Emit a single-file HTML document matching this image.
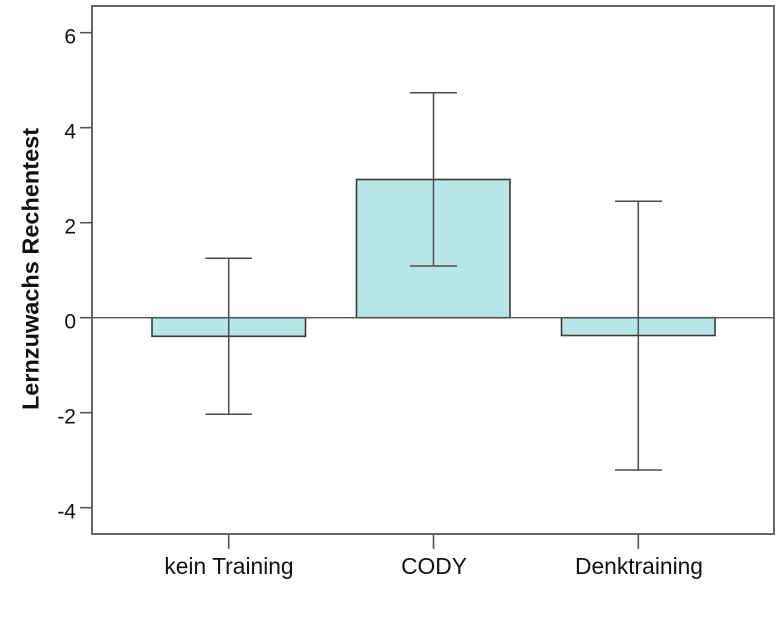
<!DOCTYPE html>
<html>
<head>
<meta charset="utf-8">
<style>
html,body{margin:0;padding:0;background:#fff;}
svg{display:block;}
text{font-family:"Liberation Sans",Arial,sans-serif;fill:#111;}
</style>
</head>
<body>
<svg width="784" height="628" viewBox="0 0 784 628" xmlns="http://www.w3.org/2000/svg">
  <rect x="0" y="0" width="784" height="628" fill="#fff"/>
  <!-- bars -->
  <rect x="152" y="317.7" width="153.5" height="18.6" fill="#b8e6e6" stroke="#3a3a3a" stroke-width="1.6"/>
  <rect x="356.5" y="179.5" width="153.5" height="138.2" fill="#b8e6e6" stroke="#3a3a3a" stroke-width="1.6"/>
  <rect x="561.5" y="317.7" width="153.5" height="17.8" fill="#b8e6e6" stroke="#3a3a3a" stroke-width="1.6"/>
  <!-- zero line -->
  <line x1="92" y1="317.7" x2="774" y2="317.7" stroke="#555" stroke-width="1.4"/>
  <!-- error bars -->
  <g stroke="#4a4a4a" stroke-width="1.5" fill="none">
    <line x1="228.7" y1="258.3" x2="228.7" y2="414.3"/>
    <line x1="205.5" y1="258.3" x2="252" y2="258.3"/>
    <line x1="205.5" y1="414.3" x2="252" y2="414.3"/>
    <line x1="433.5" y1="92.7" x2="433.5" y2="266"/>
    <line x1="410" y1="92.7" x2="457" y2="92.7"/>
    <line x1="410" y1="266" x2="457" y2="266"/>
    <line x1="638.3" y1="201.3" x2="638.3" y2="470"/>
    <line x1="615" y1="201.3" x2="662" y2="201.3"/>
    <line x1="615" y1="470" x2="662" y2="470"/>
  </g>
  <!-- frame -->
  <rect x="92" y="6" width="682" height="528" fill="none" stroke="#666" stroke-width="2"/>
  <!-- y ticks -->
  <g stroke="#555" stroke-width="1.6">
    <line x1="80" y1="32.7" x2="92" y2="32.7"/>
    <line x1="80" y1="127.7" x2="92" y2="127.7"/>
    <line x1="80" y1="222.7" x2="92" y2="222.7"/>
    <line x1="80" y1="317.7" x2="92" y2="317.7"/>
    <line x1="80" y1="412.7" x2="92" y2="412.7"/>
    <line x1="80" y1="507.7" x2="92" y2="507.7"/>
    <line x1="228.7" y1="534" x2="228.7" y2="549"/>
    <line x1="433.5" y1="534" x2="433.5" y2="549"/>
    <line x1="638.3" y1="534" x2="638.3" y2="549"/>
  </g>
  <!-- y tick labels -->
  <g font-size="21" text-anchor="end">
    <text x="76" y="43.3">6</text>
    <text x="76" y="138.3">4</text>
    <text x="76" y="233.3">2</text>
    <text x="76" y="328.3">0</text>
    <text x="76" y="423.3">-2</text>
    <text x="76" y="518.3">-4</text>
  </g>
  <!-- x labels -->
  <g font-size="22.8" text-anchor="middle">
    <text x="229" y="574">kein Training</text>
    <text x="434" y="574">CODY</text>
    <text x="639" y="574">Denktraining</text>
  </g>
  <!-- y axis title -->
  <text transform="translate(38.5,269) rotate(-90)" font-size="23.5" font-weight="bold" text-anchor="middle">Lernzuwachs Rechentest</text>
</svg>
</body>
</html>
